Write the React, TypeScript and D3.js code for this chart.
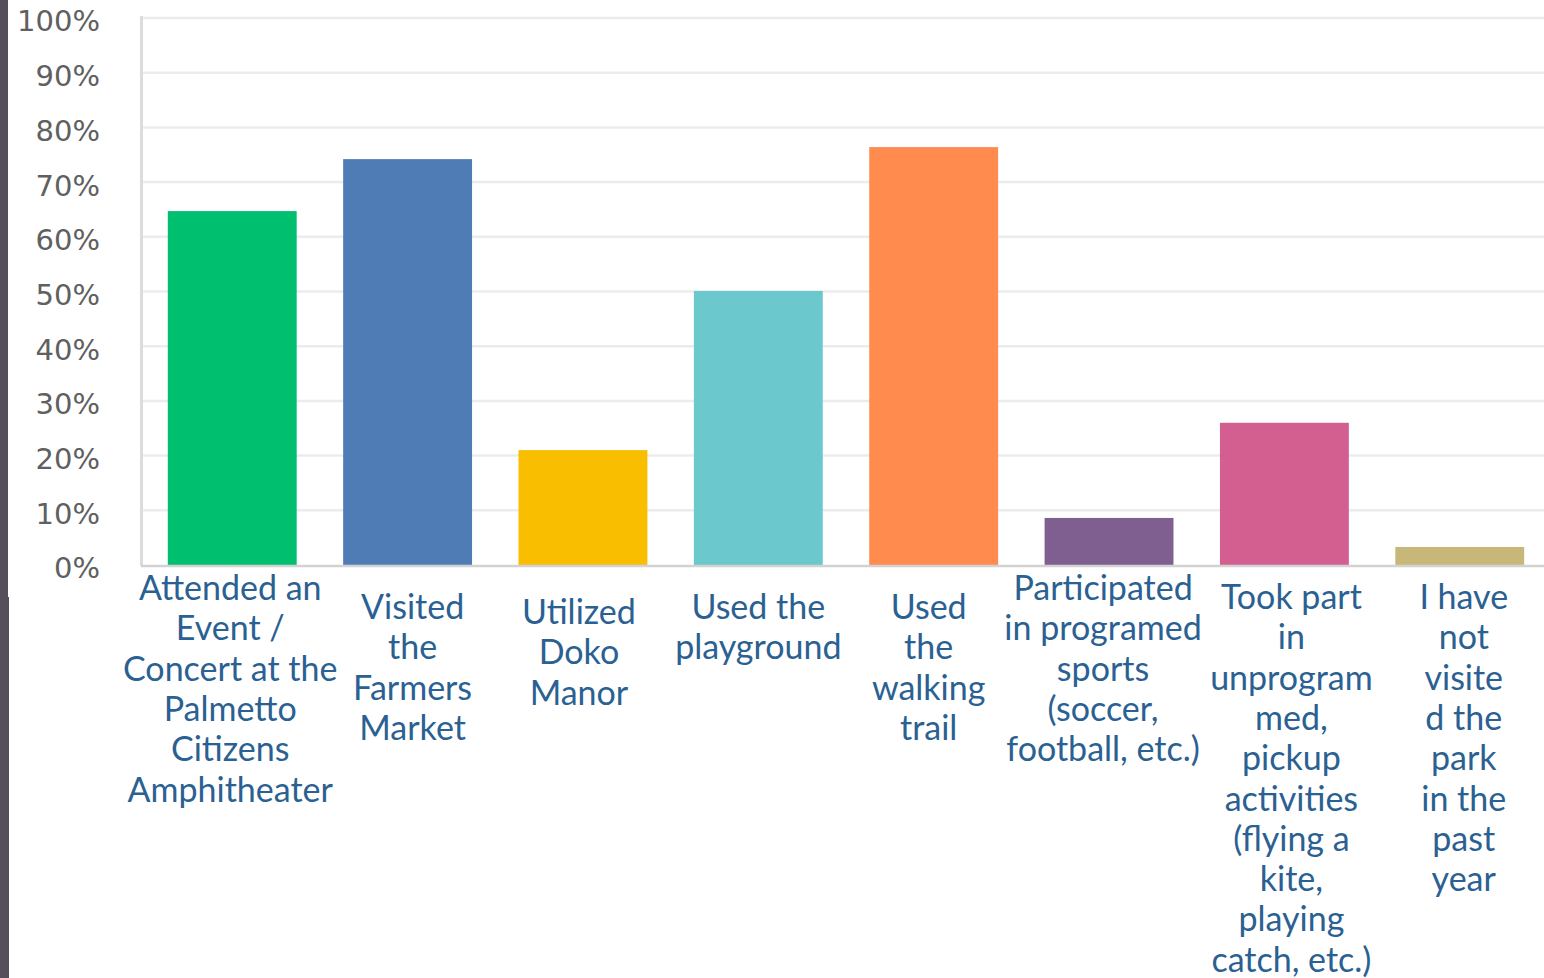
import React from "react";
import * as d3 from "d3";

const categories: string[][] = [
  ["Attended an", "Event /", "Concert at the", "Palmetto", "Citizens", "Amphitheater"],
  ["Visited", "the", "Farmers", "Market"],
  ["Utilized", "Doko", "Manor"],
  ["Used the", "playground"],
  ["Used", "the", "walking", "trail"],
  ["Participated", "in programed", "sports", "(soccer,", "football, etc.)"],
  ["Took part", "in", "unprogram", "med,", "pickup", "activities", "(flying a", "kite,", "playing", "catch, etc.)"],
  ["I have", "not", "visite", "d the", "park", "in the", "past", "year"],
];
const values: number[] = [64.7, 74.2, 21.0, 50.1, 76.4, 8.6, 26.0, 3.3];
const colors: string[] = ["#00bf6f", "#507cb6", "#f9be00", "#6bc8cd", "#ff8b4f", "#7f5f90", "#d25f90", "#c7b879"];
const yTicks: number[] = [0, 10, 20, 30, 40, 50, 60, 70, 80, 90, 100];

// layout constants (first-line baseline and horizontal nudge per label)
const labelBaseline = [600, 619, 624, 619, 619, 600, 609, 609];
const labelDx = [-2, 5, -4, 0, -5, -6, 7, 4];

export default function App() {
  const W = 1544, H = 978;
  const x = d3.scaleBand<number>().domain(d3.range(values.length)).range([145, 1547]).paddingInner(0.265).paddingOuter(0.13);
  const y = d3.scaleLinear().domain([0, 100]).range([565, 18]);
  const lineH = 40.3;
  return (
    <svg width={W} height={H} style={{ position: "absolute", left: 0, top: 0, background: "#fff" }}>
      <rect x={0} y={0} width={W} height={H} fill="#fff" />
      <rect x={0} y={0} width={8} height={597} fill="#554f5c" />
      <rect x={0} y={597} width={9} height={H - 597} fill="#554f5c" />
      {yTicks.filter(t => t > 0).map(t => (
        <line key={"g" + t} x1={141} x2={W} y1={y(t)} y2={y(t)} stroke="#ececec" strokeWidth={2.5} />
      ))}
      <line x1={141.5} x2={141.5} y1={16} y2={566} stroke="#dcdcdc" strokeWidth={3} />
      {values.map((v, i) => (
        <rect key={"b" + i} x={x(i)!} y={y(v)} width={x.bandwidth()} height={y(0) - y(v)} fill={colors[i]} />
      ))}
      <line x1={141} x2={W} y1={566} y2={566} stroke="#d2d2d2" strokeWidth={2.5} />
      {yTicks.map(t => (
        <text key={"t" + t} x={100} y={y(t) + 3} dy="0.36em" textAnchor="end" fontFamily="'DejaVu Sans', sans-serif" fontSize={29} fill="#606060">
          {t + "%"}
        </text>
      ))}
      {categories.map((lines, i) => (
        <text key={"l" + i} textAnchor="middle" fontFamily="Lato, sans-serif" fontSize={34} fill="#2a6192">
          {lines.map((s, j) => (
            <tspan key={j} x={x(i)! + x.bandwidth() / 2 + labelDx[i]} y={labelBaseline[i] + j * lineH}>{s}</tspan>
          ))}
        </text>
      ))}
    </svg>
  );
}
